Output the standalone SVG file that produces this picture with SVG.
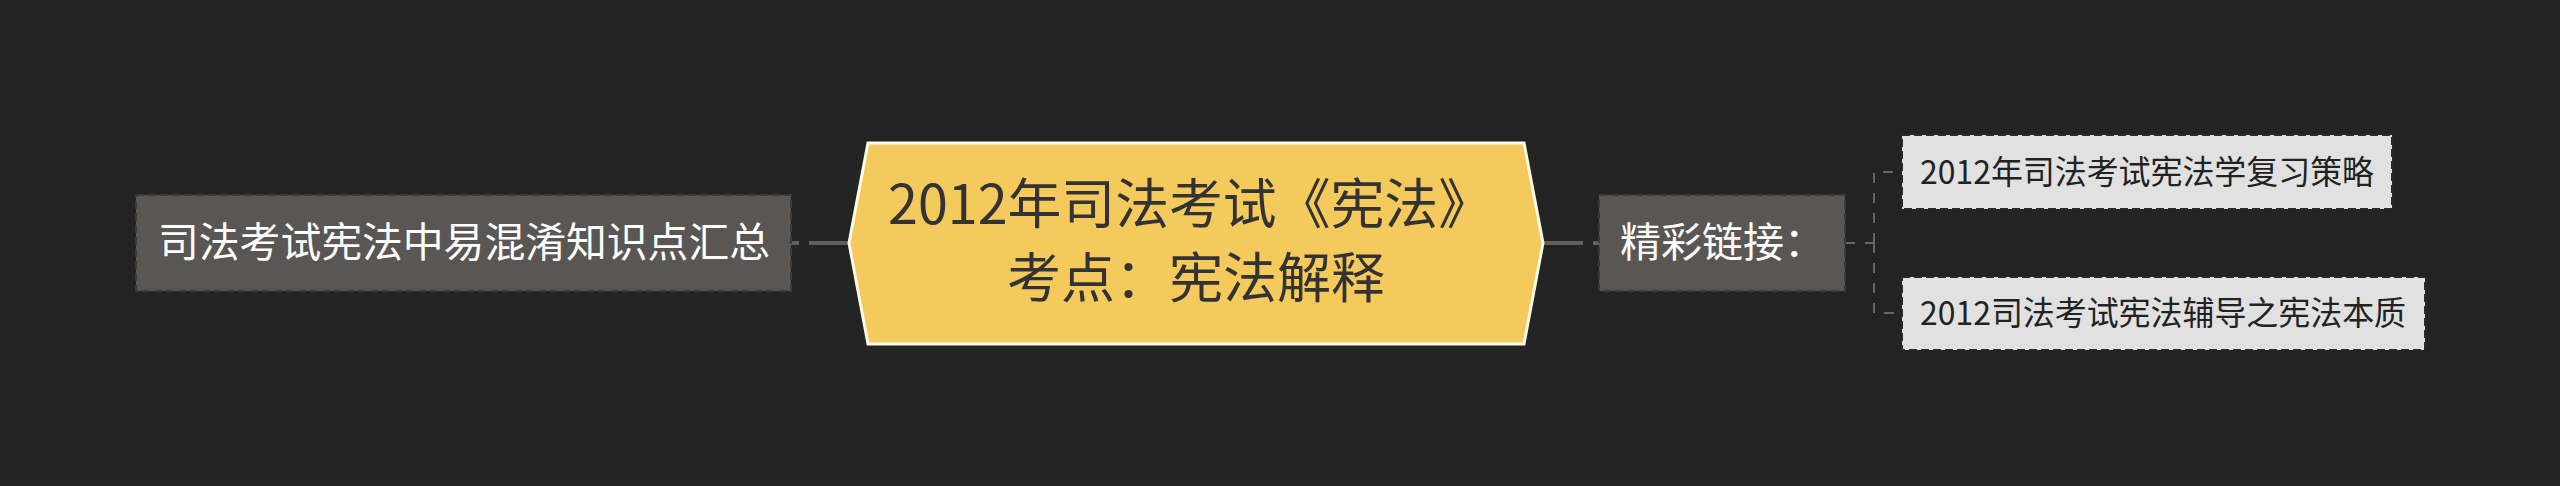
<svg xmlns="http://www.w3.org/2000/svg" width="2560" height="486" viewBox="0 0 2560 486">
<defs>
<style>
.thick{fill:none;stroke:#5f5f5f;stroke-width:4;stroke-dasharray:40 10}
.thin{fill:none;stroke:#666;stroke-width:2;stroke-dasharray:10 10}
.grey{fill:#5a5653;stroke:#3a3a3a;stroke-width:2;stroke-dasharray:8 4}
.light{fill:#e1e1e1;stroke:#2a2a2a;stroke-width:2;stroke-dasharray:8 4}
.t{font-family:"Noto Sans CJK SC","Noto Sans",sans-serif}
</style>
</defs>
<rect width="2560" height="486" fill="#232323"/>
<g id="connectors">
<path class="thick" d="M849 243 H791"/>
<path class="thick" d="M1543 243 H1599"/>
<path class="thin" d="M1845 243 H1874"/>
<path class="thin" d="M1874 243 V172 H1902"/>
<path class="thin" d="M1874 243 V313 H1902"/>
</g>
<g id="root">
<polygon points="849,243 868,143 1524,143 1543,243 1524,344 868,344" fill="#f5ca5d" stroke="#fffbe6" stroke-width="3"/>
<text class="t" x="888" y="224" font-size="54" fill="#333" textLength="604" lengthAdjust="spacingAndGlyphs">2012年司法考试《宪法》</text>
<text class="t" x="1196" y="298" font-size="54" fill="#333" text-anchor="middle">考点：宪法解释</text>
</g>
<g id="left">
<rect class="grey" x="136" y="195" width="655" height="96"/>
<text class="t" x="158" y="257" font-size="41" fill="#ffffff" textLength="612" lengthAdjust="spacingAndGlyphs">司法考试宪法中易混淆知识点汇总</text>
</g>
<g id="links">
<rect class="grey" x="1599" y="195" width="246" height="96"/>
<text class="t" x="1620" y="257" font-size="41" fill="#ffffff">精彩链接：</text>
</g>
<g id="link1">
<rect class="light" x="1902" y="135" width="490" height="74"/>
<text class="t" x="1920" y="184" font-size="33" fill="#222" textLength="454" lengthAdjust="spacingAndGlyphs">2012年司法考试宪法学复习策略</text>
</g>
<g id="link2">
<rect class="light" x="1902" y="277" width="523" height="73"/>
<text class="t" x="1920" y="325" font-size="33" fill="#222" textLength="486" lengthAdjust="spacingAndGlyphs">2012司法考试宪法辅导之宪法本质</text>
</g>
</svg>
